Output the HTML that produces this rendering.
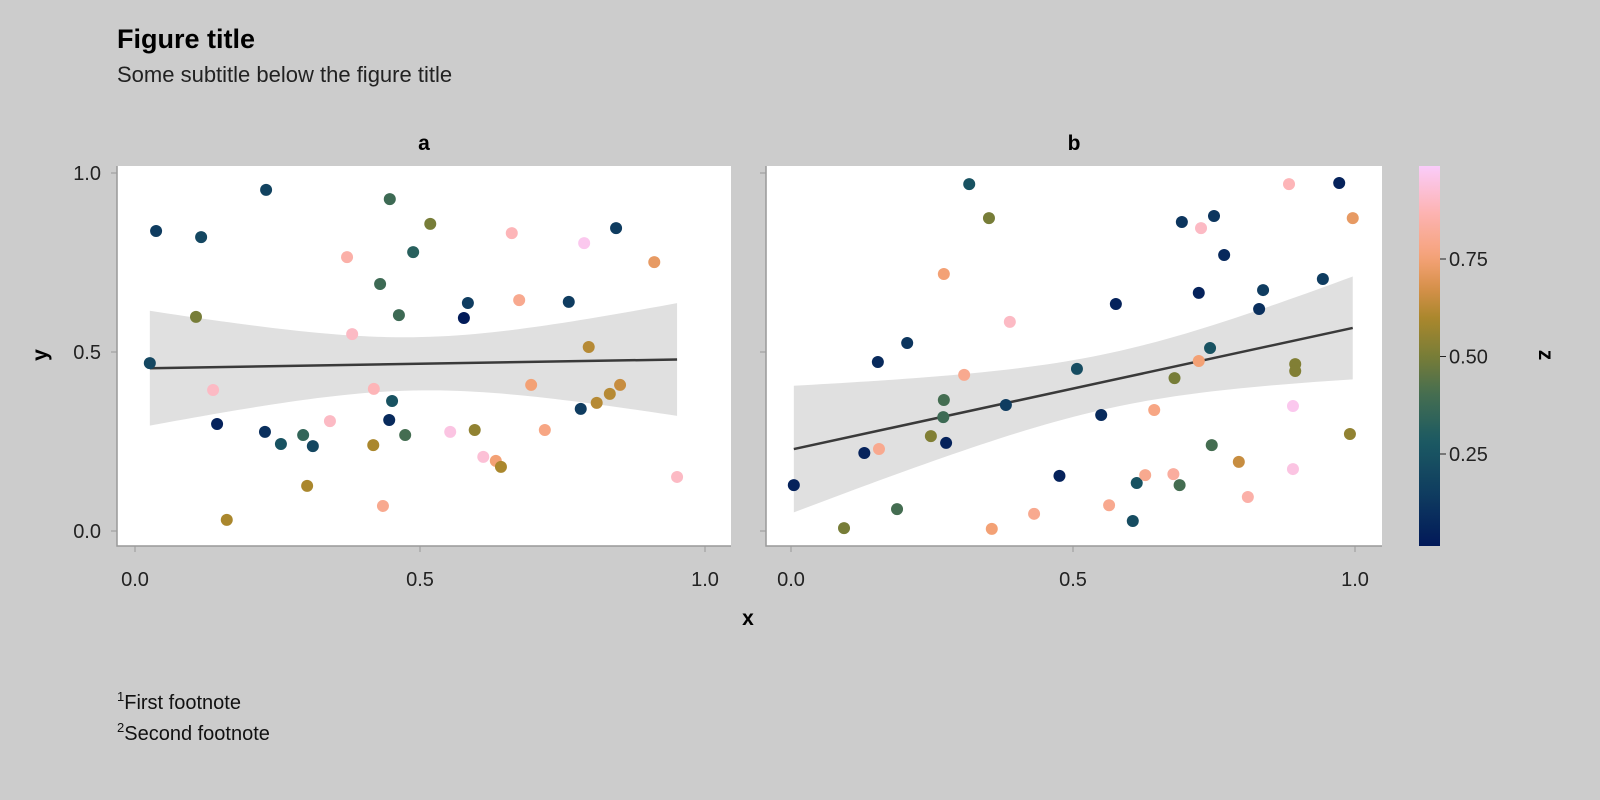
<!DOCTYPE html>
<html><head><meta charset="utf-8"><style>
body{margin:0;background:#cccccc;}
svg{display:block;font-family:"Liberation Sans",sans-serif;}
</style></head><body>
<svg id="fig" width="1600" height="800">
<defs><linearGradient id="cmap" x1="0" y1="1" x2="0" y2="0"></linearGradient></defs>
<rect width="1600" height="800" fill="#cccccc"/>
<text x="117" y="48" font-size="27" font-weight="bold" fill="#000">Figure title</text>
<text x="117" y="82" font-size="22" fill="#222">Some subtitle below the figure title</text>
<text x="424" y="150" font-size="21" font-weight="bold" text-anchor="middle">a</text>
<text x="1074" y="150" font-size="21" font-weight="bold" text-anchor="middle">b</text>
<rect x="117" y="166" width="614" height="380" fill="#fff"/>
<rect x="766" y="166" width="616" height="380" fill="#fff"/>
<g id="layerA"></g><g id="layerB"></g><g id="axes"></g>
<text x="748" y="625" font-size="21" font-weight="bold" text-anchor="middle">x</text>
<text transform="translate(47,355) rotate(-90)" font-size="21" font-weight="bold" text-anchor="middle">y</text>
<text transform="translate(1539,355) rotate(90)" font-size="21" font-weight="bold" text-anchor="middle">z</text>
<rect x="1419" y="166" width="21" height="380" fill="url(#cmap)"/>
<text x="117" y="709" font-size="20" fill="#111"><tspan font-size="13" dy="-8">1</tspan><tspan dy="8">First footnote</tspan></text>
<text x="117" y="740" font-size="20" fill="#111"><tspan font-size="13" dy="-8">2</tspan><tspan dy="8">Second footnote</tspan></text>
</svg>
<script>
const ticksXY=[0,0.5,1];
const tickLabels=["0.0","0.5","1.0"];
const cbTicks=[0.25,0.5,0.75];
const cbLabels=["0.25","0.50","0.75"];
const ax=[0.026,0.037,0.116,0.107,0.137,0.144,0.161,0.230,0.228,0.256,0.295,0.302,0.312,0.342,0.372,0.381,0.418,0.419,0.430,0.435,0.446,0.447,0.451,0.463,0.474,0.488,0.518,0.553,0.577,0.584,0.596,0.611,0.633,0.642,0.661,0.674,0.695,0.719,0.761,0.782,0.788,0.796,0.810,0.833,0.844,0.851,0.911,0.951];
const ay=[0.469,0.838,0.821,0.598,0.394,0.299,0.031,0.953,0.277,0.243,0.268,0.126,0.237,0.307,0.765,0.550,0.240,0.397,0.690,0.070,0.310,0.927,0.363,0.603,0.268,0.779,0.858,0.277,0.595,0.637,0.282,0.207,0.196,0.179,0.832,0.645,0.408,0.282,0.640,0.341,0.804,0.514,0.358,0.383,0.846,0.408,0.751,0.151];
const az=[0.20,0.15,0.20,0.50,0.90,0.05,0.60,0.18,0.10,0.25,0.35,0.60,0.20,0.90,0.85,0.90,0.60,0.88,0.38,0.80,0.08,0.38,0.25,0.38,0.40,0.32,0.50,0.95,0.02,0.15,0.55,0.93,0.75,0.60,0.88,0.80,0.75,0.78,0.15,0.15,0.97,0.62,0.62,0.62,0.15,0.65,0.72,0.90];
const bx=[0.005,0.094,0.130,0.156,0.154,0.188,0.206,0.248,0.271,0.270,0.275,0.271,0.307,0.316,0.351,0.356,0.381,0.388,0.431,0.476,0.507,0.550,0.564,0.576,0.613,0.606,0.628,0.644,0.678,0.680,0.689,0.693,0.723,0.723,0.727,0.743,0.746,0.750,0.768,0.794,0.810,0.830,0.837,0.883,0.890,0.890,0.894,0.894,0.943,0.972,0.991,0.996];
const by=[0.128,0.008,0.218,0.229,0.472,0.061,0.525,0.265,0.366,0.318,0.246,0.718,0.436,0.969,0.874,0.006,0.352,0.584,0.048,0.154,0.453,0.324,0.072,0.634,0.134,0.028,0.156,0.338,0.159,0.427,0.128,0.863,0.475,0.665,0.846,0.511,0.240,0.880,0.771,0.193,0.095,0.620,0.673,0.969,0.173,0.349,0.466,0.447,0.704,0.972,0.271,0.874];
const bz=[0.05,0.50,0.05,0.80,0.08,0.40,0.12,0.52,0.40,0.38,0.05,0.75,0.80,0.25,0.50,0.75,0.15,0.90,0.80,0.05,0.22,0.08,0.80,0.05,0.25,0.22,0.80,0.78,0.83,0.50,0.40,0.12,0.75,0.05,0.90,0.25,0.40,0.12,0.07,0.65,0.85,0.10,0.15,0.88,0.95,0.97,0.52,0.52,0.15,0.05,0.55,0.72];
const NS='http://www.w3.org/2000/svg';
const stopPos=[0,0.15,0.28,0.4,0.5,0.6,0.68,0.76,0.88,1];
const stopCol=[[1,25,89],[16,63,96],[28,90,98],[70,110,80],[120,125,55],[170,135,45],[215,145,75],[245,162,120],[253,180,180],[250,204,250]];
const zMin=0.014,zMax=0.99;
function cmap(z){let t=Math.max(0,Math.min(1,(z-zMin)/(zMax-zMin)));let i=0;while(i<stopPos.length-2&&t>stopPos[i+1])i++;const f=(t-stopPos[i])/(stopPos[i+1]-stopPos[i]);const c=stopCol[i].map((v,k)=>Math.round(v+(stopCol[i+1][k]-v)*f));return `rgb(${c})`;}
function el(tag,attrs,parent){const e=document.createElementNS(NS,tag);for(const k in attrs)e.setAttribute(k,attrs[k]);parent.appendChild(e);return e;}
const grad=document.getElementById('cmap');
for(let i=0;i<=40;i++){el('stop',{offset:i/40,'stop-color':cmap(zMin+(zMax-zMin)*i/40)},grad);}
const yScale=v=>531-v*358;
const panels=[{x:ax,y:ay,z:az,x0:135,k:570,left:117,right:731,layer:'layerA',name:'a'},{x:bx,y:by,z:bz,x0:791,k:564,left:766,right:1382,layer:'layerB',name:'b'}];
const axes=document.getElementById('axes');
panels.forEach(p=>{
  const g=document.getElementById(p.layer);const xs=v=>p.x0+v*p.k;
  const n=p.x.length,mx=p.x.reduce((a,b)=>a+b)/n,my=p.y.reduce((a,b)=>a+b)/n;
  let sxx=0,sxy=0;for(let i=0;i<n;i++){sxx+=(p.x[i]-mx)**2;sxy+=(p.x[i]-mx)*(p.y[i]-my);}
  const b1=sxy/sxx,b0=my-b1*mx;let sse=0;for(let i=0;i<n;i++)sse+=(p.y[i]-b0-b1*p.x[i])**2;
  const s=Math.sqrt(sse/(n-2)),t=2.01;
  const xmin=Math.min(...p.x),xmax=Math.max(...p.x);const up=[],lo=[];
  for(let j=0;j<=60;j++){const xv=xmin+(xmax-xmin)*j/60,yh=b0+b1*xv,h=t*s*Math.sqrt(1/n+(xv-mx)**2/sxx);up.push(`${xs(xv)},${yScale(yh+h)}`);lo.unshift(`${xs(xv)},${yScale(yh-h)}`);}
  const band=el('polygon',{points:up.concat(lo).join(' '),fill:'#e0e0e0'},g);
  
  
  const ln=el('line',{x1:xs(xmin),y1:yScale(b0+b1*xmin),x2:xs(xmax),y2:yScale(b0+b1*xmax),stroke:'#3a3a3a','stroke-width':2.5},g);
  
  
  for(let i=0;i<n;i++){const c=el('circle',{cx:xs(p.x[i]),cy:yScale(p.y[i]),r:6,fill:cmap(p.z[i])},g);
    
    }
  const sp=el('path',{d:`M${p.left},166V546H${p.right}`,stroke:'#999',fill:'none','stroke-width':1.5},axes);
  
  
  ticksXY.forEach((v,i)=>{el('line',{x1:xs(v),x2:xs(v),y1:546,y2:552,stroke:'#999'},axes);
    const tl=el('text',{x:xs(v),y:586,'font-size':20,'text-anchor':'middle',fill:'#222'},axes);tl.textContent=tickLabels[i];
    
    
    el('line',{x1:p.left-6,x2:p.left,y1:yScale(v),y2:yScale(v),stroke:'#999'},axes);
    if(p.name==='a'){const yl=el('text',{x:101,y:yScale(v)+7,'font-size':20,'text-anchor':'end',fill:'#222'},axes);yl.textContent=tickLabels[i];
      
      }
  });
});
cbTicks.forEach((v,i)=>{const y=551.5-v*390;el('line',{x1:1440,x2:1446,y1:y,y2:y,stroke:'#222'},axes);
  const t=el('text',{x:1449,y:y+7,'font-size':20,fill:'#222'},axes);t.textContent=cbLabels[i];
  
  });
</script>
</body></html>
